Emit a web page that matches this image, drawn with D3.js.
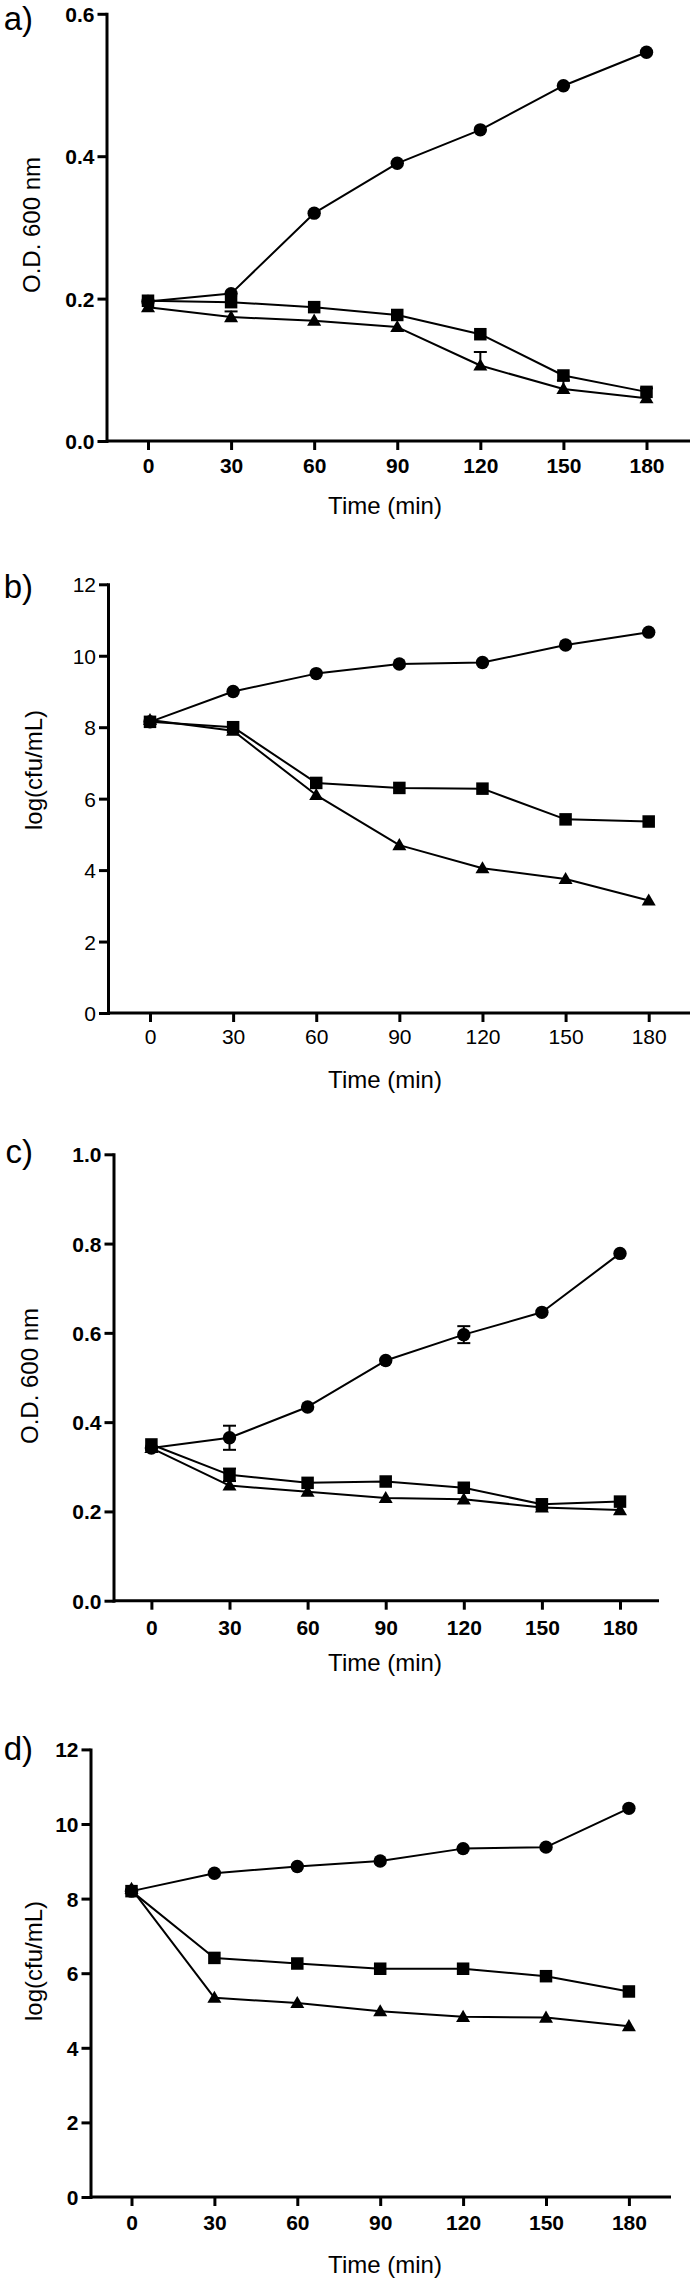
<!DOCTYPE html>
<html>
<head>
<meta charset="utf-8">
<script src="https://cdn.jsdelivr.net/npm/d3@7"></script>
<style>
  html, body { margin: 0; padding: 0; background: #fff; }
  svg { display: block; }
  text { font-family: "Liberation Sans", Arial, sans-serif; fill: #000; }
</style>
</head>
<body>
<svg id="chart" width="692" height="2280"></svg>
<script>
// ---------- DATA ----------
const times = [0, 30, 60, 90, 120, 150, 180];
const xTicks = [0, 30, 60, 90, 120, 150, 180];

// Panel a: O.D. 600 nm
const aCircle   = [0.196, 0.207, 0.320, 0.390, 0.437, 0.499, 0.546];
const aSquare   = [0.197, 0.195, 0.188, 0.177, 0.150, 0.092, 0.069];
const aTriangle = [0.188, 0.174, 0.169, 0.160, 0.106, 0.073, 0.060];
const aTriangleErr = [0, 0.008, 0, 0, 0.019, 0.012, 0];
const aSquareErr   = [0, 0, 0, 0, 0, 0, 0.005];
const aYTicks = [0.0, 0.2, 0.4, 0.6];

// Panel b: log(cfu/mL)
const bCircle   = [8.15, 9.00, 9.50, 9.77, 9.81, 10.30, 10.66];
const bSquare   = [8.15, 8.00, 6.44, 6.30, 6.28, 5.42, 5.36];
const bTriangle = [8.20, 7.90, 6.10, 4.70, 4.05, 3.75, 3.15];
const bYTicks = [0, 2, 4, 6, 8, 10, 12];

// Panel c: O.D. 600 nm
const cCircle   = [0.342, 0.365, 0.434, 0.538, 0.596, 0.646, 0.778];
const cSquare   = [0.350, 0.282, 0.264, 0.267, 0.253, 0.216, 0.222];
const cTriangle = [0.342, 0.258, 0.244, 0.230, 0.227, 0.209, 0.203];
const cCircleErr = [0, 0.027, 0, 0, 0.019, 0, 0];
const cSquareErr = [0, 0.014, 0, 0, 0, 0, 0];
const cYTicks = [0.0, 0.2, 0.4, 0.6, 0.8, 1.0];

// Panel d: log(cfu/mL)
const dCircle   = [8.20, 8.68, 8.86, 9.01, 9.34, 9.38, 10.42];
const dSquare   = [8.20, 6.41, 6.26, 6.12, 6.12, 5.92, 5.51];
const dTriangle = [8.26, 5.34, 5.20, 4.98, 4.83, 4.81, 4.58];
const dYTicks = [0, 2, 4, 6, 8, 10, 12];

// ---------- LAYOUT ----------
const panels = [
  { letter: "a)", letterY: 30, ylabel: "O.D. 600 nm", ymax: 0.6, yTicks: aYTicks, fmt: ".1f", bold: true,
    axisX: 106.5, y0: 441, yTop: 13.8, x0: 148, x180: 646.5, xEnd: 690,
    tickLabelDy: 32, timeY: 514, ylabelX: 31, ylabelY: 225, errMode: "up",
    series: [
      { shape: "circle", v: aCircle },
      { shape: "triangle", v: aTriangle, err: aTriangleErr },
      { shape: "square", v: aSquare, err: aSquareErr }
    ] },
  { letter: "b)", letterY: 598, ylabel: "log(cfu/mL)", ymax: 12, yTicks: bYTicks, fmt: "d", bold: false,
    axisX: 108, y0: 1013, yTop: 584.3, x0: 150, x180: 648.7, xEnd: 690,
    tickLabelDy: 30.5, timeY: 1088, ylabelX: 33, ylabelY: 770, errMode: "up",
    series: [
      { shape: "circle", v: bCircle },
      { shape: "triangle", v: bTriangle },
      { shape: "square", v: bSquare }
    ] },
  { letter: "c)", letterY: 1163, ylabel: "O.D. 600 nm", ymax: 1.0, yTicks: cYTicks, fmt: ".1f", bold: true,
    axisX: 113.5, y0: 1600.7, yTop: 1154.3, x0: 151.4, x180: 620, xEnd: 659,
    tickLabelDy: 34, timeY: 1671, ylabelX: 29, ylabelY: 1376, errMode: "both",
    series: [
      { shape: "circle", v: cCircle, err: cCircleErr },
      { shape: "triangle", v: cTriangle },
      { shape: "square", v: cSquare, err: cSquareErr }
    ] },
  { letter: "d)", letterY: 1760, ylabel: "log(cfu/mL)", ymax: 12, yTicks: dYTicks, fmt: "d", bold: true,
    axisX: 90.5, y0: 2197, yTop: 1749.4, x0: 131.5, x180: 628.9, xEnd: 671,
    tickLabelDy: 33, timeY: 2273, ylabelX: 33, ylabelY: 1961, errMode: "up",
    series: [
      { shape: "circle", v: dCircle },
      { shape: "triangle", v: dTriangle },
      { shape: "square", v: dSquare }
    ] }
];

const svg = d3.select("#chart");
svg.append("rect").attr("width", 692).attr("height", 2280).attr("fill", "#fff");

const AXIS_W = 3, LINE_W = 2, TICK_FS = 21;
const symCircle = d3.symbol().type(d3.symbolCircle).size(Math.PI * 6.7 * 6.7);
const symSquare = d3.symbol().type(d3.symbolSquare).size(12.5 * 12.5);
const symTriangle = d3.symbol().type(d3.symbolTriangle).size(85);

panels.forEach(p => {
  const g = svg.append("g");
  const x = d3.scaleLinear().domain([0, 180]).range([p.x0, p.x180]);
  const y = d3.scaleLinear().domain([0, p.ymax]).range([p.y0, p.yTop]);

  // panel letter
  g.append("text").attr("x", 33).attr("y", p.letterY)
    .attr("text-anchor", "end").attr("font-size", 33).text(p.letter);

  // x axis domain line
  g.append("line").attr("x1", p.axisX).attr("x2", p.xEnd)
    .attr("y1", p.y0).attr("y2", p.y0)
    .attr("stroke", "#000").attr("stroke-width", AXIS_W);

  // x axis ticks
  const xa = g.append("g").attr("transform", `translate(0,${p.y0})`)
    .call(d3.axisBottom(x).tickValues(xTicks).tickSize(9).tickSizeOuter(0).tickFormat(d3.format("d")));
  xa.select(".domain").remove();
  xa.selectAll(".tick line").attr("stroke", "#000").attr("stroke-width", AXIS_W);
  xa.selectAll(".tick text").attr("y", null).attr("dy", null)
    .attr("transform", `translate(0,${p.tickLabelDy})`)
    .attr("font-size", TICK_FS).attr("font-weight", p.bold ? "bold" : "normal")
    .attr("font-family", "Liberation Sans, Arial, sans-serif").attr("fill", "#000");

  // y axis
  const ya = g.append("g").attr("transform", `translate(${p.axisX},0)`)
    .call(d3.axisLeft(y).tickValues(p.yTicks).tickSize(9).tickSizeOuter(0).tickPadding(3)
      .tickFormat(d3.format(p.fmt)));
  ya.select(".domain").attr("stroke", "#000").attr("stroke-width", AXIS_W).attr("stroke-linecap", "square");
  ya.selectAll(".tick line").attr("stroke", "#000").attr("stroke-width", AXIS_W);
  ya.selectAll(".tick text").attr("dy", "0.36em")
    .attr("font-size", TICK_FS).attr("font-weight", p.bold ? "bold" : "normal")
    .attr("font-family", "Liberation Sans, Arial, sans-serif").attr("fill", "#000");

  // axis titles
  g.append("text").attr("x", 385).attr("y", p.timeY).attr("text-anchor", "middle")
    .attr("font-size", 24).text("Time (min)");
  g.append("text").attr("transform", `translate(${p.ylabelX + 9},${p.ylabelY}) rotate(-90)`)
    .attr("text-anchor", "middle").attr("font-size", 24).text(p.ylabel);

  // lines
  const line = d3.line().x((d, i) => x(times[i])).y(d => y(d));
  p.series.forEach(s => {
    g.append("path").attr("d", line(s.v)).attr("fill", "none")
      .attr("stroke", "#000").attr("stroke-width", LINE_W).attr("stroke-linejoin", "round");
  });

  // error bars
  p.series.forEach(s => {
    if (!s.err) return;
    s.v.forEach((v, i) => {
      const e = s.err[i];
      if (!e) return;
      const cx = x(times[i]);
      const top = y(v + e);
      const bot = p.errMode === "both" ? y(v - e) : y(v);
      g.append("line").attr("x1", cx).attr("x2", cx).attr("y1", top).attr("y2", bot)
        .attr("stroke", "#000").attr("stroke-width", LINE_W);
      g.append("line").attr("x1", cx - 6.5).attr("x2", cx + 6.5).attr("y1", top).attr("y2", top)
        .attr("stroke", "#000").attr("stroke-width", LINE_W);
      if (p.errMode === "both") {
        g.append("line").attr("x1", cx - 6.5).attr("x2", cx + 6.5).attr("y1", bot).attr("y2", bot)
          .attr("stroke", "#000").attr("stroke-width", LINE_W);
      }
    });
  });

  // markers
  p.series.forEach(s => {
    const sym = s.shape === "circle" ? symCircle : s.shape === "square" ? symSquare : symTriangle;
    g.selectAll(null).data(s.v).enter().append("path")
      .attr("d", sym)
      .attr("transform", (d, i) => `translate(${x(times[i])},${y(d) + (s.shape === "triangle" ? 1 : 0)})`)
      .attr("fill", "#000");
  });
});
</script>
</body>
</html>
